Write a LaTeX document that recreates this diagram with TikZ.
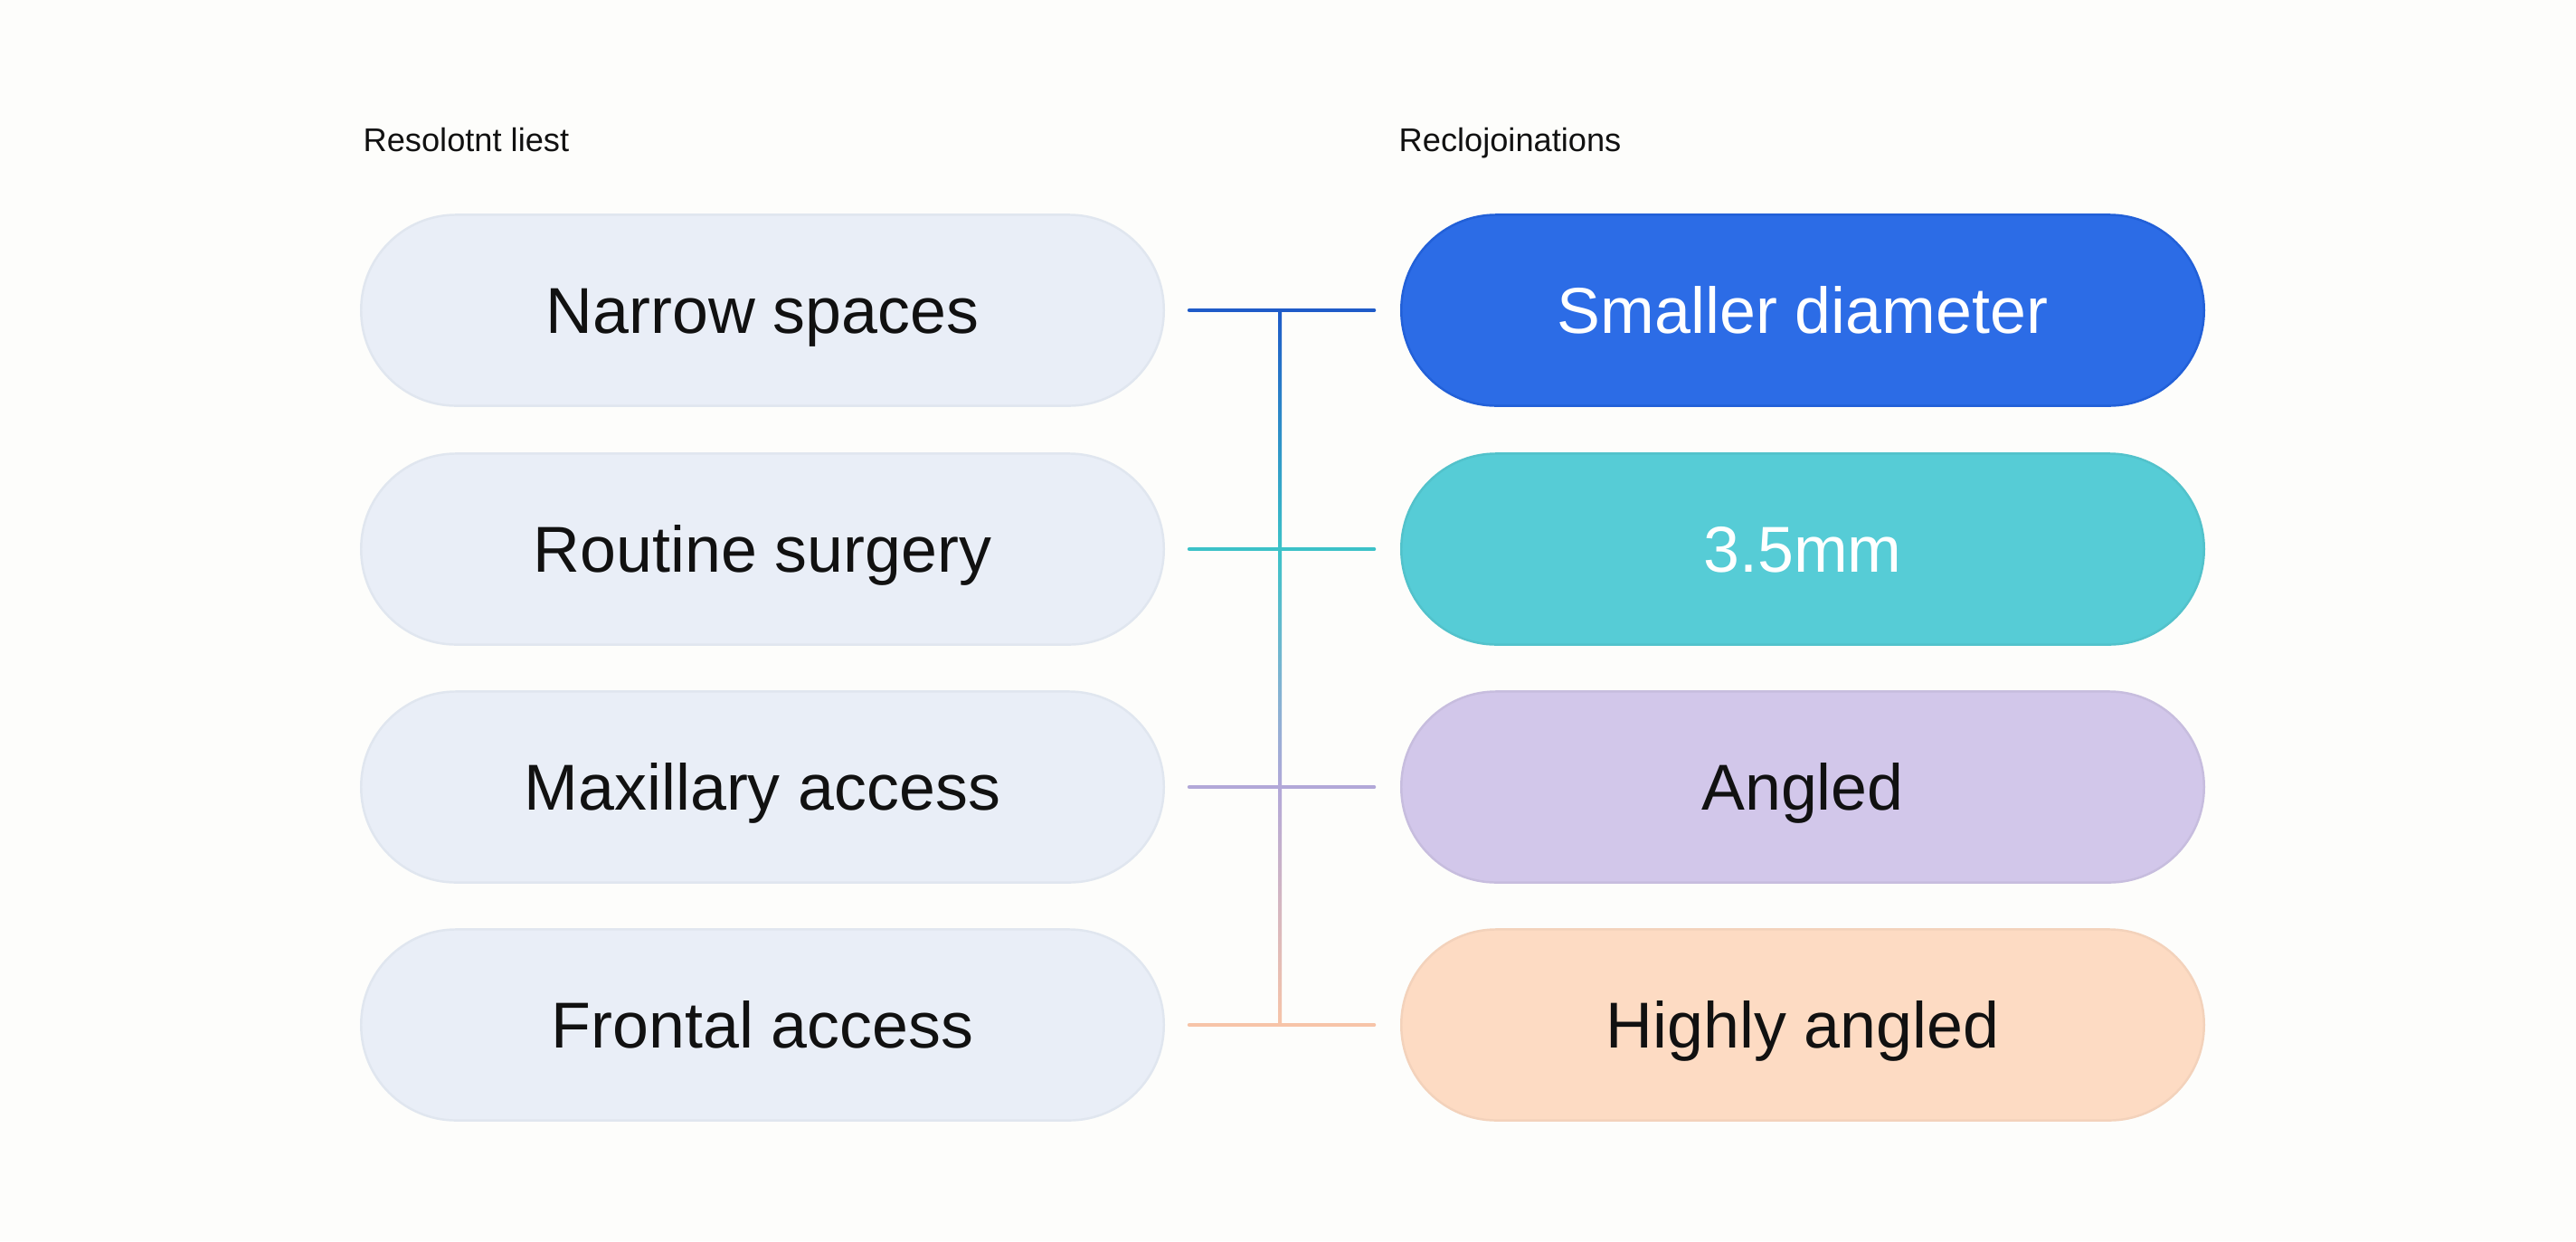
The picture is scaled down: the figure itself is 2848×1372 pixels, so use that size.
\documentclass[tikz,border=0pt]{standalone}
\usepackage{fontspec}
\setmainfont{Liberation Sans}
\usetikzlibrary{calc}
\definecolor{bgcol}{HTML}{FDFDFB}
\definecolor{lfill}{HTML}{E9EEF7}
\definecolor{ldraw}{HTML}{E0E6EF}
\definecolor{bluefill}{HTML}{2C6CE6}
\definecolor{bluedraw}{HTML}{2260D8}
\definecolor{tealfill}{HTML}{56CCD6}
\definecolor{purfill}{HTML}{D2C7EA}
\definecolor{peachfill}{HTML}{FDDBC3}
\definecolor{lineblue}{HTML}{1F5BC8}
\definecolor{lineteal}{HTML}{3CC2C8}
\definecolor{linepur}{HTML}{B2A8D8}
\definecolor{linepeach}{HTML}{F7C4A8}
\definecolor{txt}{HTML}{111111}
\tikzset{
  pill/.style={rectangle, rounded corners=1.05cm, minimum width=8.87cm, minimum height=2.11cm, inner sep=0pt, line width=0.7pt, text height=14.5pt, text depth=0pt, font=\fontsize{20.4}{24}\selectfont},
  leftpill/.style={pill, fill=lfill, draw=ldraw, text=txt},
  bluepill/.style={pill, fill=bluefill, draw=bluedraw, text=white},
  tealpill/.style={pill, fill=tealfill, draw=tealfill!95!black, text=white},
  purpill/.style={pill, fill=purfill, draw=purfill!95!black, text=txt},
  peachpill/.style={pill, fill=peachfill, draw=peachfill!96!black, text=txt},
  heading/.style={anchor=west, inner sep=0pt, text=txt, text height=7.4pt, text depth=0pt, font=\fontsize{10.3}{12}\selectfont},
  conn/.style={line width=0.045cm, line cap=round},
}
\begin{document}
\begin{tikzpicture}[x=0.01cm, y=-0.01cm]
\fill[bgcol] (0,0) rectangle (2848,1372);
\useasboundingbox (0,0) rectangle (2848,1372);

\node[heading] (h1) at (401,154) {Resolotnt liest};
\node[heading] (h2) at (1546,154) {Reclojoinations};

\node[leftpill] (l1) at (843,343) {Narrow spaces};
\node[leftpill] (l2) at (843,607) {Routine surgery};
\node[leftpill] (l3) at (843,870) {Maxillary access};
\node[leftpill] (l4) at (843,1133) {Frontal access};

\node[bluepill]  (r1) at (1993,343) {Smaller diameter};
\node[tealpill]  (r2) at (1993,607) {3.5mm};
\node[purpill]   (r3) at (1993,870) {Angled};
\node[peachpill] (r4) at (1993,1133) {Highly angled};

% junction points on the trunk
\coordinate (j1) at (1415,343);
\coordinate (j2) at (1415,607);
\coordinate (j3) at (1415,870);
\coordinate (j4) at (1415,1133);

% vertical trunk with colour gradient
\shade[top color=lineblue, bottom color=lineteal] ($(j1)+(-2,0)$) rectangle ($(j2)+(2,0)$);
\shade[top color=lineteal, bottom color=linepur] ($(j2)+(-2,0)$) rectangle ($(j3)+(2,0)$);
\shade[top color=linepur, bottom color=linepeach] ($(j3)+(-2,0)$) rectangle ($(j4)+(2,0)$);

% horizontal branches
\draw[conn, lineblue]  ($(l1.east)+(27,0)$) -- ($(r1.west)+(-29,0)$);
\draw[conn, lineteal]  ($(l2.east)+(27,0)$) -- ($(r2.west)+(-29,0)$);
\draw[conn, linepur]   ($(l3.east)+(27,0)$) -- ($(r3.west)+(-29,0)$);
\draw[conn, linepeach] ($(l4.east)+(27,0)$) -- ($(r4.west)+(-29,0)$);
\end{tikzpicture}
\end{document}
